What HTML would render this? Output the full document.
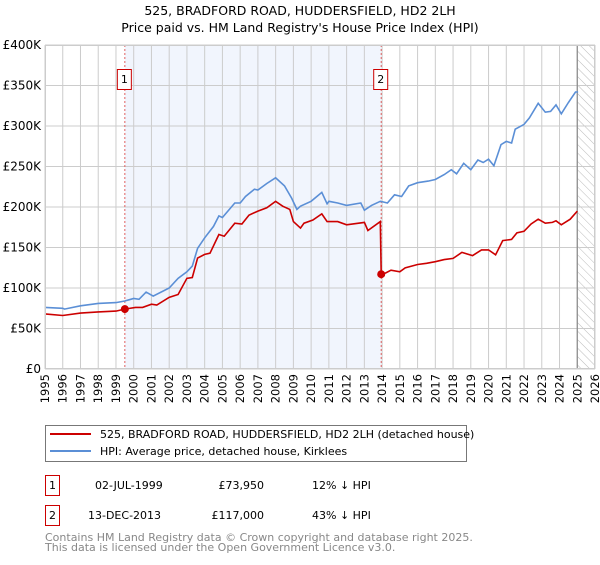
<!DOCTYPE html>
<html><head><meta charset="utf-8"><style>
body{margin:0;background:#fff}
svg{font-family:"DejaVu Sans","Liberation Sans",sans-serif}
</style></head><body>
<svg width="600" height="560" xmlns="http://www.w3.org/2000/svg" id="chart">
<defs><pattern id="hatch" width="6" height="6" patternUnits="userSpaceOnUse" patternTransform="rotate(-45)"><line x1="0" y1="0" x2="0" y2="6" stroke="#bbb" stroke-width="1"/></pattern></defs>
<text x="300" y="15" text-anchor="middle" font-size="12.5">525, BRADFORD ROAD, HUDDERSFIELD, HD2 2LH</text>
<text x="300" y="32" text-anchor="middle" font-size="12.5">Price paid vs. HM Land Registry's House Price Index (HPI)</text>
<g id="plot"></g>
<g>
<rect x="45.5" y="425.5" width="421" height="36" fill="#fff" stroke="#777"/>
<line x1="50" y1="434" x2="91" y2="434" stroke="#cc0000" stroke-width="2"/>
<text x="100" y="438" font-size="11">525, BRADFORD ROAD, HUDDERSFIELD, HD2 2LH (detached house)</text>
<line x1="50" y1="451" x2="91" y2="451" stroke="#5b8fd6" stroke-width="2"/>
<text x="100" y="455" font-size="11">HPI: Average price, detached house, Kirklees</text>
</g>
<g font-size="11">
<rect x="45.5" y="475.5" width="14" height="20" fill="#fff" stroke="#cc0000"/><text x="52.5" y="489" text-anchor="middle">1</text>
<text x="95" y="489">02-JUL-1999</text><text x="264" y="489" text-anchor="end">£73,950</text><text x="312" y="489">12% ↓ HPI</text>
<rect x="45.5" y="505.5" width="14" height="20" fill="#fff" stroke="#cc0000"/><text x="52.5" y="519" text-anchor="middle">2</text>
<text x="88" y="519">13-DEC-2013</text><text x="264" y="519" text-anchor="end">£117,000</text><text x="312" y="519">43% ↓ HPI</text>
</g>
<text x="45" y="541" font-size="11" fill="#888">Contains HM Land Registry data © Crown copyright and database right 2025.</text>
<text x="45" y="551" font-size="11" fill="#888">This data is licensed under the Open Government Licence v3.0.</text>
</svg>
<script>
const hpiYears=[1995,1996,1996.1,1997,1998,1999,1999.5,2000,2000.3,2000.7,2001.1,2002,2002.5,2003,2003.3,2003.6,2004,2004.5,2004.8,2005,2005.7,2006,2006.3,2006.8,2007,2007.5,2008,2008.5,2008.9,2009.2,2009.4,2010,2010.6,2010.9,2011,2011.5,2012,2012.8,2013,2013.4,2013.9,2014.3,2014.7,2015.1,2015.5,2016,2016.6,2017,2017.5,2017.9,2018.2,2018.6,2019,2019.4,2019.7,2020,2020.3,2020.7,2021,2021.3,2021.5,2022,2022.3,2022.8,2023.2,2023.5,2023.8,2024.1,2024.5,2024.9,2025.05];
const hpiValues=[76,75,74,78,81,82,84,87,86,95,90,100,112,120,127,149,162,176,189,187,205,205,213,222,221,229,236,226,211,197,201,207,218,204,207,205,202,205,196,202,207,205,215,213,226,230,232,234,240,246,241,254,246,258,255,259,251,277,281,279,296,302,310,328,317,318,326,315,329,342,342];
const ppYears=[1995,1996,1997,1998,1999,1999.5,2000.1,2000.5,2001,2001.3,2002,2002.5,2003,2003.3,2003.6,2004,2004.3,2004.8,2005.1,2005.7,2006.1,2006.5,2007,2007.5,2008,2008.4,2008.8,2009,2009.4,2009.6,2010.1,2010.6,2010.9,2011.5,2012,2013,2013.2,2013.9,2013.95,2014.2,2014.5,2015,2015.3,2016,2016.5,2017,2017.5,2018,2018.5,2019.1,2019.6,2020,2020.4,2020.8,2021.3,2021.6,2022,2022.4,2022.8,2023.2,2023.6,2023.8,2024.1,2024.6,2025];
const ppValues=[68,66,69,70.5,71.5,73.95,76,76,80,79,88.5,92,112,113,137,141.5,143,166,164,180,179,190,195,199,207,201,197,182,174,180,184,191.5,182,182,178,181,171,182,117,118.5,122,120,125,129,130.5,132.5,135,136.5,144,140,147,147,141,158.5,160,168,170,179,185,180,181,183,178,185,195];
const saleYears=[1999.5,2013.95];
const saleValues=[73.95,117];
const saleLabels=["1","2"];
const yTicks=[0,50,100,150,200,250,300,350,400];
const yTickLabels=["£0","£50K","£100K","£150K","£200K","£250K","£300K","£350K","£400K"];
const xTicks=[];for(let y=1995;y<=2026;y++)xTicks.push(y);

const X0=45,X1=595,Y0=369,Y1=45;
const xs=v=>X0+(v-1995)/31*(X1-X0);
const ys=v=>Y0-v/400*(Y0-Y1);
const NS="http://www.w3.org/2000/svg";
const g=document.getElementById('plot');
function mk(t,a){const e=document.createElementNS(NS,t);for(const k in a)e.setAttribute(k,a[k]);g.appendChild(e);return e;}
let e;
e=mk('rect',{x:xs(saleYears[0]),y:Y1,width:xs(saleYears[1])-xs(saleYears[0]),height:Y0-Y1,fill:'#eef3fc',opacity:0.8});


e=mk('rect',{x:xs(2025),y:Y1,width:X1-xs(2025),height:Y0-Y1,fill:'url(#hatch)'});


xTicks.forEach(t=>{
 e=mk('line',{x1:xs(t),x2:xs(t),y1:Y1,y2:Y0,stroke:'#ccc','stroke-width':1});
 
 
 e=mk('text',{transform:`translate(${xs(t)+4},${Y0+5}) rotate(-90)`,'text-anchor':'end','font-size':11.5});
 e.textContent=t;
 
 
});
yTicks.forEach((t,i)=>{
 e=mk('line',{x1:X0,x2:X1,y1:ys(t),y2:ys(t),stroke:'#ccc','stroke-width':1});
 
 
 e=mk('text',{x:X0-4,y:ys(t)+4,'text-anchor':'end','font-size':12});
 e.textContent=yTickLabels[i];
 
 
});
e=mk('line',{x1:xs(2025),x2:xs(2025),y1:Y1,y2:Y0,stroke:'#888','stroke-width':1.2});


saleYears.forEach((s,i)=>{
 e=mk('line',{x1:xs(s),x2:xs(s),y1:Y1,y2:Y0,stroke:'#e06060','stroke-width':1,'stroke-dasharray':'2,2'});
 
 
 e=mk('rect',{x:xs(s)-7.5,y:69.5,width:14,height:20,fill:'#fff',stroke:'#cc0000'});
 
 
 e=mk('text',{x:xs(s)-0.5,y:83,'text-anchor':'middle','font-size':11});
 e.textContent=saleLabels[i];
 
 
});
e=mk('path',{d:hpiYears.map((y,i)=>(i?'L':'M')+xs(y).toFixed(1)+','+ys(hpiValues[i]).toFixed(1)).join(''),fill:'none',stroke:'#5b8fd6','stroke-width':1.6});


e=mk('path',{d:ppYears.map((y,i)=>(i?'L':'M')+xs(y).toFixed(1)+','+ys(ppValues[i]).toFixed(1)).join(''),fill:'none',stroke:'#cc0000','stroke-width':1.6});


saleYears.forEach((s,i)=>{
 e=mk('circle',{cx:xs(s),cy:ys(saleValues[i]),r:4,fill:'#cc0000'});
 
 
});
e=mk('rect',{x:X0+0.5,y:Y1+0.5,width:X1-X0-1,height:Y0-Y1-1,fill:'none',stroke:'#ccc'});


</script>
</body></html>
